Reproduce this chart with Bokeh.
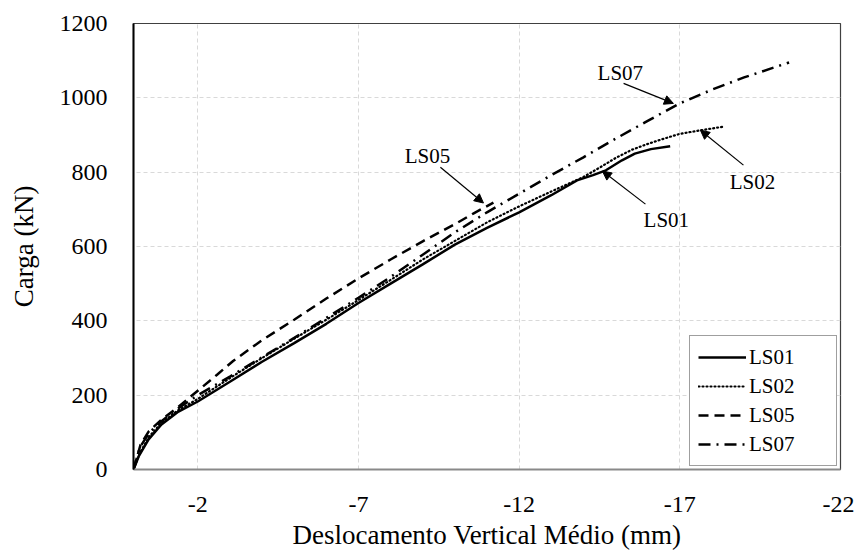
from bokeh.plotting import figure
from bokeh.models import (Range1d, FixedTicker, Legend, LegendItem, Arrow,
                          NormalHead, Label, CustomJSTickFormatter)
from bokeh.embed import file_html
from bokeh.resources import INLINE

# ---------------- data ----------------
ls01_x = [0, -0.16, -0.47, -0.87, -1.4, -2.0, -3.0, -4.0, -5.0, -6.0, -7.0, -8.0,
          -9.0, -10.0, -11.0, -12.0, -13.0, -13.8, -14.3, -14.7, -15.2, -15.6,
          -16.1, -16.7]
ls01_y = [0, 35, 81, 121, 156, 183, 236, 290, 340, 392, 448, 500,
          552, 605, 650, 692, 738, 778, 792, 805, 832, 850, 862, 870]

ls02_x = [0, -0.2, -0.5, -0.9, -1.4, -2.0, -3.0, -4.0, -5.0, -6.0, -7.0, -8.0,
          -9.0, -10.0, -11.0, -12.0, -13.0, -14.0, -14.5, -15.0, -15.5, -16.0,
          -16.5, -17.0, -17.6, -18.4]
ls02_y = [0, 45, 90, 128, 160, 190, 246, 300, 352, 403, 456, 510,
          565, 615, 665, 708, 748, 787, 812, 838, 860, 876, 890, 903, 912, 923]

ls05_x = [0, -0.22, -0.47, -0.87, -1.4, -2.0, -2.6, -3.1, -4.0, -5.0, -6.0,
          -7.0, -8.0, -9.0, -10.0, -10.6, -11.2]
ls05_y = [0, 67, 102, 134, 169, 212, 255, 292, 348, 403, 460, 514, 565, 614,
          660, 690, 718]

ls07_x = [0, -0.2, -0.5, -0.9, -1.4, -2.0, -3.0, -4.0, -5.0, -6.0, -7.0, -8.0,
          -9.0, -10.0, -11.0, -12.0, -13.0, -14.0, -15.0, -16.0, -17.0, -18.0,
          -19.0, -20.4]
ls07_y = [0, 60, 100, 132, 165, 200, 250, 302, 354, 408, 462, 518, 578, 638,
          692, 742, 792, 840, 890, 938, 985, 1022, 1055, 1095]

x_ticks = [-2, -7, -12, -17, -22]
y_ticks = [0, 200, 400, 600, 800, 1000, 1200]

series_names = ["LS01", "LS02", "LS05", "LS07"]

# annotation callouts: (label, text x, text y, arrow start x, y, arrow end x, y)
callouts = [
    ("LS07", -15.15, 1068, -15.25, 1039, -16.8, 985),
    ("LS02", -19.26, 773, -18.98, 819, -17.64, 913),
    ("LS01", -16.58, 671, -15.93, 714, -14.59, 803),
    ("LS05", -9.15, 843, -9.55, 813, -10.89, 717),
]

FONT = "Liberation Serif"

p = figure(width=854, height=554, output_backend="svg", toolbar_location=None,
           x_range=Range1d(0, -22), y_range=Range1d(0, 1200),
           min_border_left=133, min_border_right=14, min_border_top=23,
           min_border_bottom=85)

p.background_fill_color = "white"
p.border_fill_color = "white"
p.outline_line_color = "#404040"
p.outline_line_width = 1.2

# grids
for g in (p.xgrid, p.ygrid):
    g.grid_line_color = "#d9d9d9"
    g.grid_line_dash = "4 3"
    g.grid_line_width = 1

p.xaxis.ticker = FixedTicker(ticks=x_ticks)
p.yaxis.ticker = FixedTicker(ticks=y_ticks)
p.xaxis.formatter = CustomJSTickFormatter(code="return String(tick);")
p.yaxis.formatter = CustomJSTickFormatter(code="return String(tick);")

for ax in (p.xaxis, p.yaxis):
    ax.major_tick_line_color = None
    ax.minor_tick_line_color = None
    ax.major_label_text_font = FONT
    ax.major_label_text_font_size = "24px"
    ax.major_label_text_color = "black"
    ax.axis_label_text_font = FONT
    ax.axis_label_text_font_size = "27px"
    ax.axis_label_text_font_style = "normal"
    ax.axis_label_text_color = "black"

p.xaxis.axis_line_color = "#898989"
p.xaxis.axis_line_width = 2
p.yaxis.axis_line_color = "black"
p.yaxis.axis_line_width = 2

p.xaxis.axis_label = "Deslocamento Vertical Médio (mm)"
p.yaxis.axis_label = "Carga (kN)"
p.xaxis.major_label_standoff = 21
p.xaxis.axis_label_standoff = 5
p.yaxis.major_label_standoff = 20
p.yaxis.axis_label_standoff = 18

r1 = p.line(ls01_x, ls01_y, line_color="black", line_width=2.5)
r2 = p.line(ls02_x, ls02_y, line_color="black", line_width=2.2,
            line_dash="1 3", line_cap="round")
r3 = p.line(ls05_x, ls05_y, line_color="black", line_width=2.5,
            line_dash="10 6")
r4 = p.line(ls07_x, ls07_y, line_color="black", line_width=2.5,
            line_dash="12 6 2 6")

legend = Legend(items=[LegendItem(label=n, renderers=[r])
                       for n, r in zip(series_names, [r1, r2, r3, r4])],
                location="bottom_right")
legend.label_text_font = FONT
legend.label_text_font_size = "21px"
legend.label_text_color = "black"
legend.glyph_width = 48
legend.glyph_height = 26
legend.label_height = 26
legend.label_width = 79
legend.label_standoff = 3
legend.spacing = 3
legend.padding = 8
legend.margin = 3
legend.border_line_color = "#404040"
legend.border_line_width = 1
legend.background_fill_alpha = 1
p.add_layout(legend)

for name, tx, ty, xs, ys, xe, ye in callouts:
    p.add_layout(Arrow(end=NormalHead(size=9, fill_color="black",
                                      line_color="black"),
                       x_start=xs, y_start=ys, x_end=xe, y_end=ye,
                       line_color="black", line_width=1.2))
    p.add_layout(Label(x=tx, y=ty, text=name, text_align="center",
                       text_baseline="middle", text_font=FONT,
                       text_font_size="21px", text_color="black"))

open("out.html", "w").write(file_html(p, INLINE))
